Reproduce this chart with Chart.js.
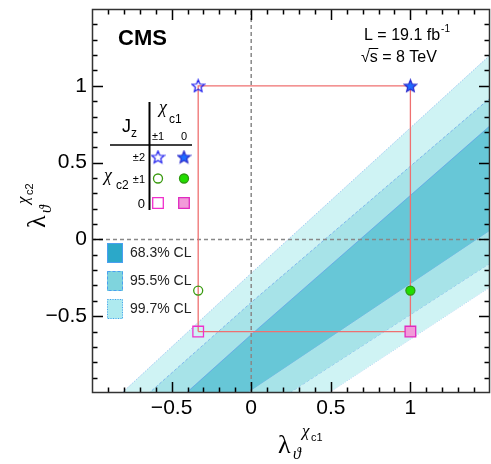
<!DOCTYPE html>
<html>
<head>
<meta charset="utf-8">
<script src="https://cdn.jsdelivr.net/npm/chart.js@4.4.1/dist/chart.umd.min.js"></script>
<style>
  html, body { margin: 0; padding: 0; background: #fff; }
</style>
</head>
<body>
<canvas id="chart" width="491" height="464"></canvas>
<script>
// Polarization values of the pure Jz states
const c1Lambda = [-0.333, 1];          // chi_c1: |Jz| = 1, 0
const c2Lambda = [1, -0.333, -0.6];    // chi_c2: |Jz| = 2, 1, 0
const c1JzLabels = ['±1', '0'];
const c2JzLabels = ['±2', '±1', '0'];

// Confidence bands: lower / upper edge read at bandX
const bandX = [-1, 0, 1.5];
const cl997Upper = [-1.18, -0.22, 1.20];
const cl997Lower = [-2.01, -1.33, -0.31];
const cl955Upper = [-1.33, -0.41, 0.92];
const cl955Lower = [-1.82, -1.16, -0.155];
const cl683Upper = [-1.55, -0.62, 0.74];
const cl683Lower = [-1.68, -0.98, 0.06];
const clLabels = ['68.3% CL', '95.5% CL', '99.7% CL'];

// Axis ranges and labelled ticks
const xRange = [-1, 1.5];
const yRange = [-1, 1.5];
const majorTicks = [-0.5, 0, 0.5, 1];

const FONT = "'Liberation Sans', Arial, sans-serif";
const GREEK = "'Liberation Serif', 'DejaVu Serif', serif";

const bandColors = ['#cff3f4', '#a7e3e8', '#67c7d7'];
const swatchColors = ['#2ba8c9', '#7fd4dd', '#aeeaef'];
const edgeColor = 'rgba(80, 140, 235, 0.55)';

function isMajor(v) {
  return majorTicks.some(m => Math.abs(m - v) < 1e-6);
}
function fmt(v) {
  if (Math.abs(v) < 1e-9) return '0';
  return (v < 0 ? '\u2212' : '') + String(Math.abs(Math.round(v * 10) / 10));
}

function makeStar(size, fill, stroke) {
  const c = document.createElement('canvas');
  c.width = c.height = size;
  const g = c.getContext('2d');
  const cx = size / 2, cy = size / 2 + 0.6, R = size / 2 - 1, r = R * 0.45;
  g.beginPath();
  for (let i = 0; i < 10; i++) {
    const ang = -Math.PI / 2 + i * Math.PI / 5;
    const rad = i % 2 ? r : R;
    g.lineTo(cx + rad * Math.cos(ang), cy + rad * Math.sin(ang));
  }
  g.closePath();
  if (fill) { g.fillStyle = fill; g.fill(); }
  g.strokeStyle = stroke;
  g.lineWidth = 1.2;
  g.stroke();
  return c;
}

const starOpen = makeStar(15, null, '#1a1aee');
const starFilled = makeStar(15, '#1e6cff', '#2a2acc');

// marker style per chi_c2 row, [open, filled]
const markerStyles = [
  [{pointStyle: starOpen}, {pointStyle: starFilled}],
  [{pointStyle: 'circle', radius: 4.5, bg: 'rgba(0,0,0,0)', border: '#3a9a10'},
   {pointStyle: 'circle', radius: 4.5, bg: '#22dd00', border: '#2f9a10'}],
  [{pointStyle: 'rect', radius: 7.5, bg: 'rgba(0,0,0,0)', border: '#f030cc'},
   {pointStyle: 'rect', radius: 7.5, bg: '#f29ad9', border: '#e02ac0'}]
];

function edge(values) {
  return bandX.map((x, i) => ({x: x, y: values[i]}));
}

function bandPair(upper, lower, color, dash, order) {
  return [
    { data: edge(upper), fill: '+1', backgroundColor: color, borderColor: edgeColor,
      borderWidth: 1, borderDash: dash, pointRadius: 0, order: order },
    { data: edge(lower), fill: false, borderColor: edgeColor,
      borderWidth: 1, borderDash: dash, pointRadius: 0, order: order }
  ];
}

const datasets = [
  ...bandPair(cl997Upper, cl997Lower, bandColors[0], [1, 1.5], 10),
  ...bandPair(cl955Upper, cl955Lower, bandColors[1], [3, 2], 9),
  ...bandPair(cl683Upper, cl683Lower, bandColors[2], [], 8)
];

// dashed zero lines
datasets.push({ data: [{x: 0, y: yRange[0]}, {x: 0, y: yRange[1]}], borderColor: '#888',
  borderWidth: 1.5, borderDash: [4, 3], pointRadius: 0, fill: false, order: 5 });
datasets.push({ data: [{x: xRange[0], y: 0}, {x: xRange[1], y: 0}], borderColor: '#888',
  borderWidth: 1.5, borderDash: [4, 3], pointRadius: 0, fill: false, order: 5 });

// box spanned by the pure states
const xLo = Math.min(...c1Lambda), xHi = Math.max(...c1Lambda);
const yLo = Math.min(...c2Lambda), yHi = Math.max(...c2Lambda);
datasets.push({
  data: [{x: xLo, y: yLo}, {x: xHi, y: yLo}, {x: xHi, y: yHi}, {x: xLo, y: yHi}, {x: xLo, y: yLo}],
  borderColor: '#ef7070', borderWidth: 1.3, pointRadius: 0, fill: false, order: 3
});

// the six pure states
c2Lambda.forEach((yv, j) => {
  c1Lambda.forEach((xv, i) => {
    const s = markerStyles[j][i];
    datasets.push({
      data: [{x: xv, y: yv}],
      showLine: false, fill: false, order: 1,
      pointStyle: s.pointStyle,
      pointRadius: s.radius || 7,
      pointBackgroundColor: s.bg || 'rgba(0,0,0,0)',
      pointBorderColor: s.border || '#000',
      pointBorderWidth: 1.3
    });
  });
});

function drawMarker(ctx, j, i, x, y) {
  const s = markerStyles[j][i];
  if (typeof s.pointStyle !== 'string') {
    ctx.drawImage(s.pointStyle, x - s.pointStyle.width / 2, y - s.pointStyle.height / 2);
    return;
  }
  ctx.beginPath();
  if (s.pointStyle === 'circle') {
    ctx.arc(x, y, 4.5, 0, Math.PI * 2);
  } else {
    ctx.rect(x - 5.3, y - 5.3, 10.6, 10.6);
  }
  ctx.fillStyle = s.bg;
  ctx.fill();
  ctx.strokeStyle = s.border;
  ctx.lineWidth = 1.3;
  ctx.stroke();
}

function drawLambdaTitle(ctx, sub) {
  // lambda at origin, theta subscript, chi_cN superscript
  ctx.fillStyle = '#000';
  ctx.textBaseline = 'alphabetic';
  ctx.textAlign = 'left';
  ctx.font = '26px ' + GREEK;
  ctx.fillText('\u03BB', 0, 0);
  ctx.font = 'italic 16px ' + GREEK;
  ctx.fillText('\u03D1', 15, 6);
  ctx.font = 'italic 17px ' + GREEK;
  ctx.fillText('\u03C7', 24, -17);
  ctx.font = '11px ' + FONT;
  ctx.fillText(sub, 33, -12);
}

const decorations = {
  id: 'decorations',
  afterDatasetsDraw(chart) {
    const {ctx, chartArea: a, scales: {x, y}} = chart;
    ctx.save();

    // inward ticks on all four sides
    ctx.strokeStyle = '#000';
    ctx.lineWidth = 1.5;
    ctx.beginPath();
    x.ticks.forEach(t => {
      if (t.value <= xRange[0] + 1e-6 || t.value >= xRange[1] - 1e-6) return;
      const px = Math.round(x.getPixelForValue(t.value)) + 0.5;
      const len = isMajor(t.value) ? 11 : 5.5;
      ctx.moveTo(px, a.bottom); ctx.lineTo(px, a.bottom - len);
      ctx.moveTo(px, a.top); ctx.lineTo(px, a.top + len);
    });
    y.ticks.forEach(t => {
      if (t.value <= yRange[0] + 1e-6 || t.value >= yRange[1] - 1e-6) return;
      const py = Math.round(y.getPixelForValue(t.value)) + 0.5;
      const len = isMajor(t.value) ? 11 : 5.5;
      ctx.moveTo(a.left, py); ctx.lineTo(a.left + len, py);
      ctx.moveTo(a.right, py); ctx.lineTo(a.right - len, py);
    });
    ctx.stroke();

    // frame
    ctx.strokeStyle = '#333';
    ctx.lineWidth = 1.5;
    ctx.strokeRect(a.left + 0.5, a.top + 0.5, a.right - a.left - 1, a.bottom - a.top - 1);

    // CMS label and run info
    ctx.fillStyle = '#000';
    ctx.textAlign = 'left';
    ctx.textBaseline = 'alphabetic';
    ctx.font = 'bold 22px ' + FONT;
    ctx.fillText('CMS', 118, 45);
    ctx.font = '16px ' + FONT;
    const lumi = 'L = 19.1 fb';
    ctx.fillText(lumi, 364, 40);
    const lw = ctx.measureText(lumi).width;
    ctx.font = '10px ' + FONT;
    ctx.fillText('-1', 364 + lw + 1, 32);
    ctx.font = '16px ' + FONT;
    ctx.fillText('\u221As = 8 TeV', 361, 62);
    const rw = ctx.measureText('\u221A').width;
    const sw = ctx.measureText('s').width;
    ctx.lineWidth = 1;
    ctx.strokeStyle = '#000';
    ctx.beginPath();
    ctx.moveTo(361 + rw - 1, 48.5);
    ctx.lineTo(361 + rw + sw + 0.5, 48.5);
    ctx.stroke();

    // Jz table
    ctx.lineWidth = 2;
    ctx.beginPath();
    ctx.moveTo(149.5, 102); ctx.lineTo(149.5, 210);
    ctx.stroke();
    ctx.lineWidth = 1.6;
    ctx.beginPath();
    ctx.moveTo(110, 145); ctx.lineTo(192, 145);
    ctx.stroke();

    ctx.font = '18px ' + FONT;
    ctx.fillText('J', 122, 132);
    ctx.font = '12px ' + FONT;
    ctx.fillText('z', 131, 137);
    ctx.font = 'italic 18px ' + GREEK;
    ctx.fillText('\u03C7', 159, 113);
    ctx.font = '12px ' + FONT;
    ctx.fillText('c1', 169, 123);
    ctx.font = 'italic 18px ' + GREEK;
    ctx.fillText('\u03C7', 104, 181);
    ctx.font = '12px ' + FONT;
    ctx.fillText('c2', 116, 189);

    const colX = [158, 184];
    const rowY = [157, 178.5, 203];
    ctx.font = '11px ' + FONT;
    ctx.textAlign = 'center';
    c1JzLabels.forEach((lab, i) => ctx.fillText(lab, colX[i], 140));
    ctx.textAlign = 'right';
    ctx.textBaseline = 'middle';
    c2JzLabels.forEach((lab, j) => {
      ctx.font = (lab === '0' ? '13px ' : '11px ') + FONT;
      ctx.fillText(lab, 145, rowY[j] + 1);
    });
    rowY.forEach((ry, j) => colX.forEach((cx, i) => drawMarker(ctx, j, i, cx, ry)));

    // CL legend
    const swY = [243, 271, 299];
    const dashes = [[], [3, 2], [1, 1.5]];
    ctx.textAlign = 'left';
    ctx.textBaseline = 'middle';
    clLabels.forEach((lab, k) => {
      ctx.fillStyle = swatchColors[k];
      ctx.fillRect(107, swY[k], 16, 20);
      ctx.setLineDash(dashes[k]);
      ctx.strokeStyle = '#4a9ff0';
      ctx.lineWidth = 1;
      ctx.strokeRect(107.5, swY[k] + 0.5, 15, 19);
      ctx.setLineDash([]);
      ctx.fillStyle = '#222';
      ctx.font = '14px ' + FONT;
      ctx.fillText(lab, 130, swY[k] + 10.5);
    });

    // axis titles
    ctx.save();
    ctx.translate(278, 453);
    drawLambdaTitle(ctx, 'c1');
    ctx.restore();
    ctx.save();
    ctx.translate(45, 228);
    ctx.rotate(-Math.PI / 2);
    drawLambdaTitle(ctx, 'c2');
    ctx.restore();

    ctx.restore();
  }
};

const axisTicks = () => ({
  display: true,
  autoSkip: false,
  maxRotation: 0,
  stepSize: 0.1,
  color: '#000',
  font: { family: FONT, size: 21 },
  callback: v => isMajor(v) ? fmt(v) : ''
});

Chart.defaults.font.family = FONT;

new Chart(document.getElementById('chart'), {
  type: 'line',
  data: { datasets: datasets },
  options: {
    responsive: false,
    animation: false,
    devicePixelRatio: 1,
    layout: { autoPadding: false, padding: { top: 9, right: 1, left: 0, bottom: 0 } },
    plugins: { legend: { display: false }, tooltip: { enabled: false } },
    scales: {
      x: {
        type: 'linear', min: xRange[0], max: xRange[1],
        grid: { display: false, drawTicks: false, tickLength: 0 },
        border: { display: false },
        ticks: Object.assign(axisTicks(), { padding: 3 }),
        afterFit: s => { s.height = 71; s.paddingLeft = 0; s.paddingRight = 0; }
      },
      y: {
        type: 'linear', min: yRange[0], max: yRange[1],
        grid: { display: false, drawTicks: false, tickLength: 0 },
        border: { display: false },
        ticks: Object.assign(axisTicks(), { padding: 5 }),
        afterFit: s => { s.width = 92; s.paddingTop = 0; s.paddingBottom = 0; }
      }
    }
  },
  plugins: [decorations]
});
</script>
</body>
</html>
